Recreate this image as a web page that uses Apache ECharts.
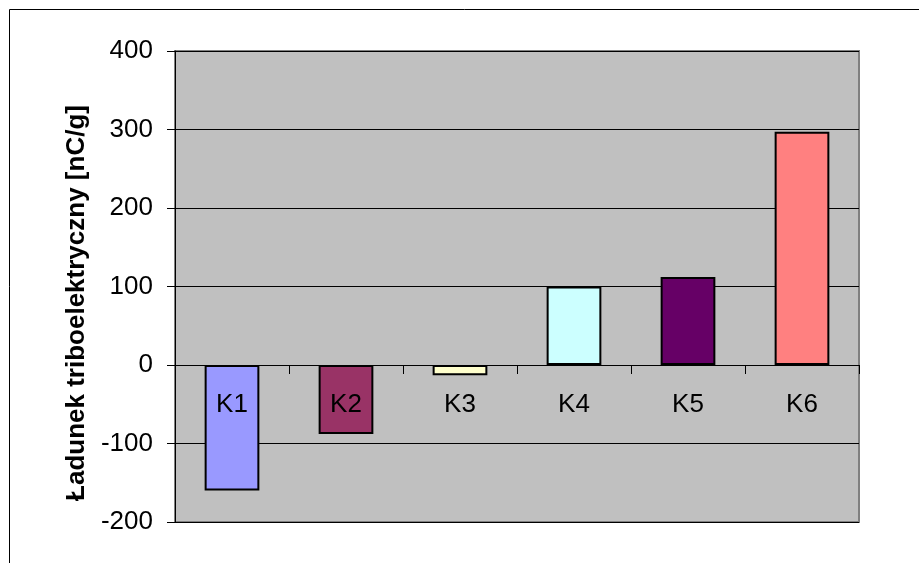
<!DOCTYPE html>
<html>
<head>
<meta charset="utf-8">
<script src="https://cdn.jsdelivr.net/npm/echarts@6/dist/echarts.min.js"></script>
<style>
  html, body { margin: 0; padding: 0; background: #ffffff; }
  #chart { width: 919px; height: 563px; }
</style>
</head>
<body>
<div id="chart"></div>
<script>
// Triboelectric charge of samples K1..K6
const categories = ['K1', 'K2', 'K3', 'K4', 'K5', 'K6'];
const chargeValues = [-160, -88, -13, 100, 112, 297];
const barColors = ['#9999FF', '#993366', '#FFFFCC', '#CCFFFF', '#660066', '#FF8080'];
const yTicks = { min: -200, max: 400, step: 100 };
const axisTitle = 'Ładunek triboelektryczny [nC/g]';

const FONT = '"Liberation Sans", Arial, sans-serif';

// plot box in pixels
const GRID = { left: 175, right: 60, top: 51, bottom: 41 };
const plotHeight = 563 - GRID.top - GRID.bottom;
// distance of the value-zero line above the bottom edge of the plot
const zeroLift = plotHeight * (0 - yTicks.min) / (yTicks.max - yTicks.min);

const chart = echarts.init(document.getElementById('chart'), null, { renderer: 'canvas' });

chart.setOption({
  animation: false,
  backgroundColor: '#ffffff',
  graphic: [
    {
      type: 'rect',
      silent: true,
      z: 100,
      shape: { x: 9.5, y: 9.5, width: 1000, height: 1000 },
      style: { fill: 'none', stroke: '#000000', lineWidth: 1 }
    }
  ],
  grid: {
    left: GRID.left,
    right: GRID.right,
    top: GRID.top,
    bottom: GRID.bottom,
    containLabel: false,
    outerBoundsMode: 'none',
    show: true,
    backgroundColor: '#C0C0C0',
    borderColor: '#808080',
    borderWidth: 2
  },
  xAxis: {
    type: 'category',
    data: categories,
    offset: -zeroLift,
    axisLine: { show: true, onZero: false, lineStyle: { color: '#000000', width: 1 } },
    axisTick: { show: true, length: 9, lineStyle: { color: '#000000', width: 1 } },
    axisLabel: {
      color: '#000000',
      fontFamily: FONT,
      fontSize: 26,
      margin: 27
    },
    splitLine: { show: false },
    z: 10
  },
  yAxis: {
    type: 'value',
    min: yTicks.min,
    max: yTicks.max,
    interval: yTicks.step,
    name: axisTitle,
    nameLocation: 'middle',
    nameGap: 82,
    nameTextStyle: {
      color: '#000000',
      fontFamily: FONT,
      fontSize: 26,
      fontWeight: 'bold',
      padding: [0, 33, 0, 0]
    },
    axisLine: { show: true, lineStyle: { color: '#000000', width: 1 } },
    axisTick: { show: true, length: 8, lineStyle: { color: '#000000', width: 1 } },
    axisLabel: {
      color: '#000000',
      fontFamily: FONT,
      fontSize: 26,
      margin: 22
    },
    splitLine: { show: true, lineStyle: { color: '#000000', width: 1 } }
  },
  series: [
    {
      type: 'bar',
      barWidth: '48%',
      data: chargeValues.map((v, i) => ({
        value: v,
        itemStyle: { color: barColors[i] }
      })),
      itemStyle: { borderColor: '#000000', borderWidth: 2 },
      z: 3
    }
  ]
});
</script>
</body>
</html>
